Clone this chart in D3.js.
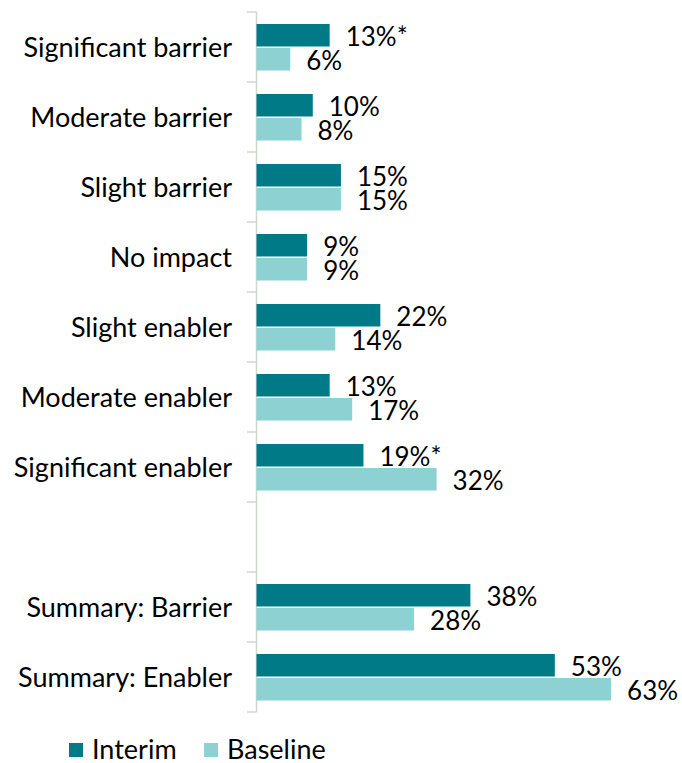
<!DOCTYPE html>
<html>
<head>
<meta charset="utf-8">
<script src="https://cdn.jsdelivr.net/npm/d3@7/dist/d3.min.js"></script>
<style>
  html, body { margin: 0; padding: 0; background: #fff; }
  text { font-family: Lato, "Open Sans", sans-serif; fill: #000; }
</style>
</head>
<body>
<svg id="chart" width="682" height="763"></svg>
<script>
// Categories, top to bottom; the empty entry is a spacer row before the summaries
const categories = [
  "Significant barrier", "Moderate barrier", "Slight barrier", "No impact",
  "Slight enabler", "Moderate enabler", "Significant enabler", "",
  "Summary: Barrier", "Summary: Enabler"
];
const interim  = [13, 10, 15, 9, 22, 13, 19, null, 38, 53];
const baseline = [6, 8, 15, 9, 14, 17, 32, null, 28, 63];
// Significance markers appended to interim labels
const interimMarks = ["*", "", "", "", "", "", "*", "", "", ""];
const seriesNames = ["Interim", "Baseline"];
const seriesColors = ["#007A87", "#8DD1D2"];

const svg = d3.select("#chart");
const catSize = 27, valSize = 26, legSize = 27;

const y = d3.scaleBand().domain(categories.map((c, i) => i)).range([12, 712]).paddingInner(0).paddingOuter(0);
const x = d3.scaleLinear().domain([0, 70]).range([256.5, 650.5]);

const groupTop = 11.5;
const barH = 24;

// Axis line with tick marks at band boundaries
const axisColor = "#CFD8CF";
svg.append("line")
  .attr("x1", 256.5).attr("x2", 256.5)
  .attr("y1", 12).attr("y2", 712)
  .attr("stroke", axisColor).attr("stroke-width", 1.5);
const bounds = d3.range(categories.length + 1).map(i => 12 + i * y.bandwidth());
svg.selectAll(".tick").data(bounds).enter().append("line")
  .attr("x1", 247).attr("x2", 256.5)
  .attr("y1", d => d).attr("y2", d => d)
  .attr("stroke", axisColor).attr("stroke-width", 1.5);

// Category labels
svg.selectAll(".cat").data(categories).enter().append("text")
  .attr("x", 232)
  .attr("y", (d, i) => y(i) + y.bandwidth() / 2 + 1)
  .attr("dy", "0.35em")
  .attr("text-anchor", "end")
  .style("font-size", catSize + "px")
  .text(d => d);

const series = [interim, baseline];
series.forEach((vals, s) => {
  const rows = vals.map((v, i) => ({ v, i })).filter(d => d.v !== null);
  svg.selectAll(".bar" + s).data(rows).enter().append("rect")
    .attr("x", x(0))
    .attr("y", d => y(d.i) + groupTop + s * barH + 0.5)
    .attr("width", d => x(d.v) - x(0))
    .attr("height", barH - 1.5)
    .attr("fill", seriesColors[s]);
  svg.selectAll(".lab" + s).data(rows).enter().append("text")
    .attr("x", d => x(d.v) + 16)
    .attr("y", d => y(d.i) + groupTop + s * barH + barH / 2 + 1)
    .attr("dy", "0.35em")
    .style("font-size", valSize + "px")
    .text(d => d.v + "%" + (s === 0 ? interimMarks[d.i] : ""));
});

// Legend
const legendX = [69, 204];
seriesNames.forEach((name, s) => {
  svg.append("rect")
    .attr("x", legendX[s]).attr("y", 743)
    .attr("width", 14).attr("height", 14)
    .attr("fill", seriesColors[s]);
  svg.append("text")
    .attr("x", legendX[s] + 23).attr("y", 750)
    .attr("dy", "0.35em")
    .style("font-size", legSize + "px")
    .text(name);
});
</script>
</body>
</html>
